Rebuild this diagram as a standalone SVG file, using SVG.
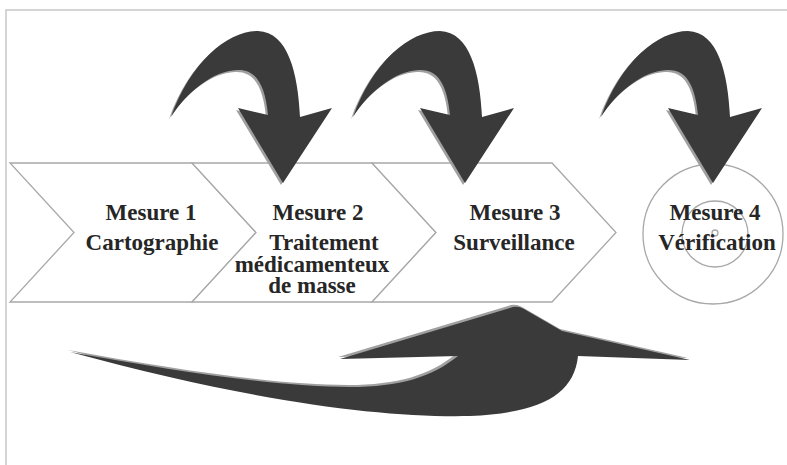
<svg xmlns="http://www.w3.org/2000/svg" width="787" height="465" viewBox="0 0 787 465">
<defs>
<style>
.frame{stroke:#c8c8c8;stroke-width:1.5;fill:none}
.chev{fill:#fff;stroke:#a8a8a8;stroke-width:1.3}
.ring{fill:none;stroke:#a8a8a8;stroke-width:1.3}
.lbl{font-family:"Liberation Serif","Times New Roman",serif;font-weight:bold;font-size:23px;fill:#262626;text-anchor:middle}
.ar{fill:#3a3a3a}
.sh{fill:#a0a0a0}
</style>
<path id="curl" d="M-112,-66 C-92,-122 -55,-152 -25,-152 C5,-151 15,-110 17,-66 L49,-75 L0,0 L-45,-75 L-15,-68 C-18,-100 -28,-114 -46,-113 C-70,-112 -95,-92 -112,-66 Z"/>
<path id="big" d="M70,352 C180,372 280,387 350,387 C400,387 432,377 458,356 L340,359 L430,332 L510,308 Q517,305 524,309 L562,331 L690,360 L578,356 C574,395 540,413 470,416 C380,418 250,401 70,352 Z"/>
</defs>
<rect width="787" height="465" fill="#fff"/>
<path class="frame" d="M6,465 V10 H787"/>
<g id="node-m1">
<path class="chev" d="M10,163 H192 L256,232.5 L192,302 H10 L74,232.5 Z"/>
<text class="lbl" x="151" y="220">Mesure 1</text>
<text class="lbl" x="152" y="250">Cartographie</text>
</g>
<g id="node-m2">
<path class="chev" d="M192,163 H372 L436,232.5 L372,302 H192 L256,232.5 Z"/>
<text class="lbl" x="318" y="220">Mesure 2</text>
<text class="lbl" x="324" y="250">Traitement</text>
<text class="lbl" x="312" y="272">médicamenteux</text>
<text class="lbl" x="312" y="293">de masse</text>
</g>
<g id="node-m3">
<path class="chev" d="M372,163 H552 L616,232.5 L552,302 H372 L436,232.5 Z"/>
<text class="lbl" x="515" y="220">Mesure 3</text>
<text class="lbl" x="514" y="250">Surveillance</text>
</g>
<g id="node-m4">
<circle class="ring" cx="713" cy="234" r="70"/>
<circle class="ring" cx="715" cy="234" r="33"/>
<circle class="ring" cx="715" cy="233" r="3"/>
<text class="lbl" x="715" y="220">Mesure 4</text>
<text class="lbl" x="717" y="250">Vérification</text>
</g>
<g id="connectors">
<g transform="translate(283,183)"><use href="#curl" class="sh" transform="translate(-2,2)"/><use href="#curl" class="ar"/></g>
<g transform="translate(465,183)"><use href="#curl" class="sh" transform="translate(-2,2)"/><use href="#curl" class="ar"/></g>
<g transform="translate(713,183)"><use href="#curl" class="sh" transform="translate(-2,2)"/><use href="#curl" class="ar"/></g>
<use href="#big" class="sh" transform="translate(-2,-2)"/>
<use href="#big" class="ar"/>
</g>
</svg>
